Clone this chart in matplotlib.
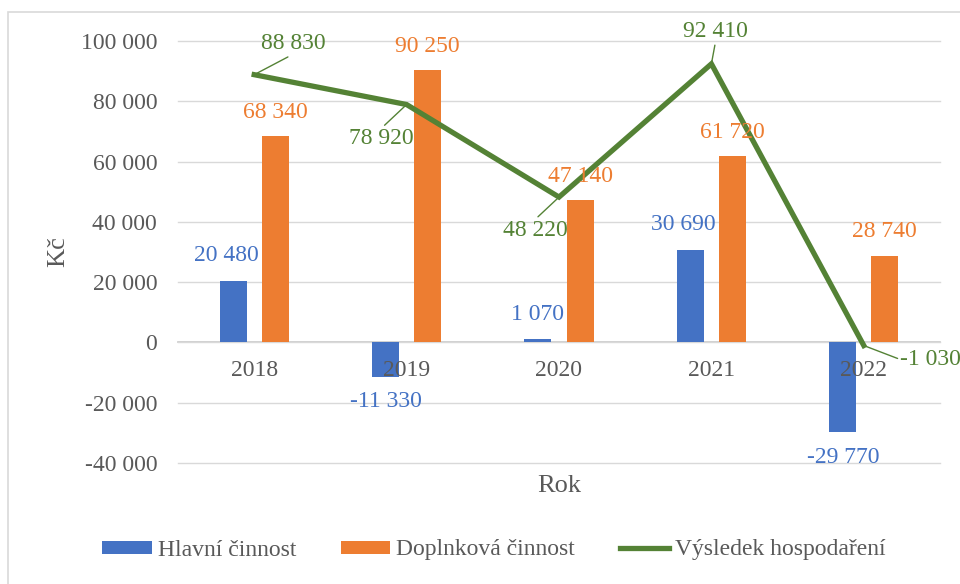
import matplotlib
matplotlib.use("Agg")
import matplotlib.pyplot as plt
from matplotlib.patches import Rectangle
from matplotlib.ticker import FuncFormatter

plt.rcParams['font.family'] = ['Liberation Serif', 'DejaVu Serif']

roky = ['2018', '2019', '2020', '2021', '2022']
hlavni = [20480, -11330, 1070, 30690, -29770]
doplnkova = [68340, 90250, 47140, 61720, 28740]
vysledek = [88830, 78920, 48220, 92410, -1030]

BLUE = '#4472C4'
ORANGE = '#ED7D31'
GREEN = '#548235'
GRAY = '#595959'
FS = 17


def fmt(v, pos=None):
    return f"{int(v):,}".replace(",", " ")


fig = plt.figure(figsize=(9.6, 5.84), dpi=100)
fig.patches.append(Rectangle((8 / 960, -0.1), 1.2, 1 - 12 / 584 + 0.1,
                             transform=fig.transFigure, fill=False,
                             edgecolor='#d9d9d9', lw=1.2))
ax = fig.add_axes([178 / 960, 1 - 463 / 584, 762 / 960, 422 / 584])

x = range(len(roky))
w = 0.177
off = 0.138
b1 = ax.bar([i - off for i in x], hlavni, w, color=BLUE, zorder=2,
            label='Hlavní činnost')
b2 = ax.bar([i + off for i in x], doplnkova, w, color=ORANGE, zorder=2,
            label='Doplnková činnost')
ln, = ax.plot(list(x), vysledek, color=GREEN, lw=3.8, zorder=3,
              solid_joinstyle='miter', label='Výsledek hospodaření')

ax.set_xlim(-0.5, 4.5)
ax.set_ylim(-40000, 100000)
ax.set_yticks(range(-40000, 100001, 20000))
ax.yaxis.set_major_formatter(FuncFormatter(fmt))
ax.grid(axis='y', color='#d9d9d9', lw=1.0, zorder=0)
for gl in ax.get_ygridlines():
    gl.set_clip_on(False)
for s in ['top', 'right', 'left']:
    ax.spines[s].set_visible(False)
ax.spines['bottom'].set_position(('data', 0))
ax.spines['bottom'].set_color('#c8c8c8')
ax.spines['bottom'].set_linewidth(1.2)
ax.spines['bottom'].set_zorder(1)
ax.xaxis.set_zorder(6)
ax.set_xticks(list(x))
ax.set_xticklabels(roky)
ax.tick_params(axis='x', length=0, pad=13, labelsize=FS, labelcolor=GRAY)
ax.tick_params(axis='y', length=0, pad=15, labelsize=FS, labelcolor=GRAY)

ax.set_ylabel('Kč', fontsize=19, color=GRAY)
ax.yaxis.set_label_coords(-0.143, 0.5)
ax.set_xlabel('Rok', fontsize=19, color=GRAY)
ax.xaxis.set_label_coords(0.5, -0.028)

# popisky sloupcu
blue_dx = [-7, 0, 0, -7, 0]
for i, v in enumerate(hlavni):
    ax.annotate(fmt(v), (i - off, v), xytext=(blue_dx[i], 25 if v > 0 else -25),
                textcoords='offset pixels', ha='center', va='center',
                fontsize=FS, color=BLUE, zorder=7)
for i, v in enumerate(doplnkova):
    ax.annotate(fmt(v), (i + off, v), xytext=(0, 24),
                textcoords='offset pixels', ha='center', va='center',
                fontsize=FS, color=ORANGE, zorder=7)

# popisky cary s odkazovymi carami
line_off = [(39, 31), (-25, -34), (-24, -33), (4, 32), (67, -14)]
line_rel = [(0.5, 0), (0.5, 1), (0.5, 1), (0.5, 0), (0, 0.5)]
for i, v in enumerate(vysledek):
    ax.annotate(fmt(v), (i, v), xytext=line_off[i], textcoords='offset pixels',
                ha='center', va='center', fontsize=FS, color=GREEN, zorder=7,
                annotation_clip=False,
                arrowprops=dict(arrowstyle='-', color=GREEN, lw=1.0,
                                shrinkA=0, shrinkB=0, relpos=line_rel[i]))

fig.legend([b1, b2, ln], [b1.get_label(), b2.get_label(), ln.get_label()],
           loc='center', bbox_to_anchor=(494 / 960, 1 - 550 / 584), ncol=3,
           frameon=False, fontsize=FS, handlelength=2.1, handleheight=0.47,
           handletextpad=0.25, columnspacing=1.9, labelcolor=GRAY)

fig.savefig('out.png', dpi=100)
